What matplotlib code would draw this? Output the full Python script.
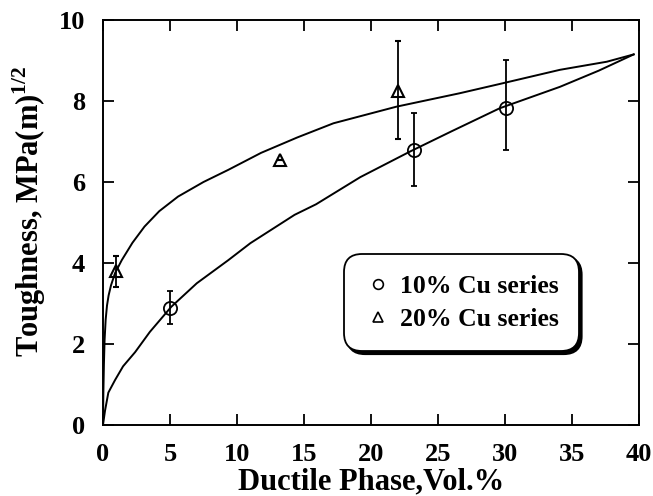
import matplotlib
matplotlib.use("Agg")
import matplotlib.pyplot as plt
from matplotlib.lines import Line2D

plt.rcParams['font.family'] = ['Liberation Serif', 'DejaVu Serif']
plt.rcParams['font.weight'] = 'bold'
plt.rcParams['mathtext.fontset'] = 'custom'
plt.rcParams['mathtext.rm'] = 'Liberation Serif:bold'
plt.rcParams['mathtext.bf'] = 'Liberation Serif:bold'

# measured points
cu10_x = [5.0, 23.2, 30.1]
cu10_y = [2.9, 6.78, 7.83]
cu10_lo = [2.5, 5.9, 6.8]
cu10_hi = [3.3, 7.7, 9.0]

cu20_x = [1.0, 13.2, 22.0]
cu20_y = [3.8, 6.55, 8.25]
cu20_lo = [3.42, 6.55, 7.05]
cu20_hi = [4.18, 6.55, 9.47]

# fitted curves
fit10_x = [0, 0.15, 0.4, 0.9, 1.5, 2.4, 3.5, 5.1, 7.0, 9.35, 11.0, 14.3, 15.9,
           19.2, 22.9, 26.0, 29.6, 34.1, 37.0, 39.6]
fit10_y = [0, 0.35, 0.8, 1.11, 1.45, 1.8, 2.3, 2.92, 3.5, 4.07, 4.49, 5.19, 5.45,
           6.12, 6.75, 7.25, 7.82, 8.35, 8.75, 9.15]

fit20_x = [0, 0.03, 0.07, 0.12, 0.2, 0.3, 0.42, 0.6, 0.9, 1.4, 2.2, 3.1, 4.2, 5.6, 7.5,
           9.35, 11.8, 14.5, 17.2, 21.9, 26.6, 29.6, 34.1, 37.6, 39.6]
fit20_y = [0, 0.8, 1.5, 2.1, 2.6, 2.95, 3.2, 3.45, 3.75, 4.07, 4.5, 4.9, 5.28, 5.64, 6.0,
           6.3, 6.72, 7.1, 7.45, 7.86, 8.19, 8.42, 8.77, 8.97, 9.15]

fig = plt.figure(figsize=(6.53, 4.96), dpi=100)
ax = fig.add_axes([0.1577, 0.1431, 0.8209, 0.8166])

ax.plot(fit10_x, fit10_y, color='black', lw=1.4)
ax.plot(fit20_x, fit20_y, color='black', lw=1.4)

err10 = [[y - lo for y, lo in zip(cu10_y, cu10_lo)], [hi - y for y, hi in zip(cu10_y, cu10_hi)]]
err20 = [[y - lo for y, lo in zip(cu20_y, cu20_lo)], [hi - y for y, hi in zip(cu20_y, cu20_hi)]]
ax.errorbar(cu10_x, cu10_y, yerr=err10, fmt='o', mfc='none', mec='black', ms=9.5,
            mew=1.3, ecolor='black', elinewidth=1.3, capsize=2)
ax.errorbar(cu20_x, cu20_y, yerr=err20, fmt='^', mfc='none', mec='black', ms=9,
            mew=1.5, ecolor='black', elinewidth=1.3, capsize=2)

ax.set_xlim(0, 40)
ax.set_ylim(0, 10)
ax.set_xticks(range(0, 41, 5))
ax.set_yticks(range(0, 11, 2))
ax.tick_params(direction='in', length=8, width=1.3, top=True, right=True,
               labelsize=19, pad=13)
for lbl in ax.get_xticklabels() + ax.get_yticklabels():
    lbl.set_fontweight('bold')
for s in ax.spines.values():
    s.set_linewidth(1.4)

ax.set_xlabel('Ductile Phase,Vol.%', fontsize=22, fontweight='bold', labelpad=1)
ax.set_ylabel(r'Toughness, MPa(m)$^{1/2}$', fontsize=22, fontweight='bold')
ax.yaxis.set_label_coords(-0.103, 0.528)

handles = [Line2D([], [], ls='none', marker='o', mfc='none', mec='black', ms=7, mew=1.2),
           Line2D([], [], ls='none', marker='^', mfc='none', mec='black', ms=7, mew=1.2)]
leg = ax.legend(handles, ['10% Cu series', '20% Cu series'], loc='center',
                bbox_to_anchor=(0.669, 0.302), fontsize=18.5, frameon=True,
                fancybox=True, shadow={'color': 'black', 'alpha': 1.0},
                handletextpad=0.35, handlelength=1.0, borderpad=0.8, labelspacing=0.4,
                framealpha=1, edgecolor='black')
leg.get_frame().set_boxstyle('round', pad=0, rounding_size=0.7)
leg.get_frame().set_linewidth(1.3)
for t in leg.get_texts():
    t.set_fontweight('bold')

fig.savefig('out.png', dpi=100)
